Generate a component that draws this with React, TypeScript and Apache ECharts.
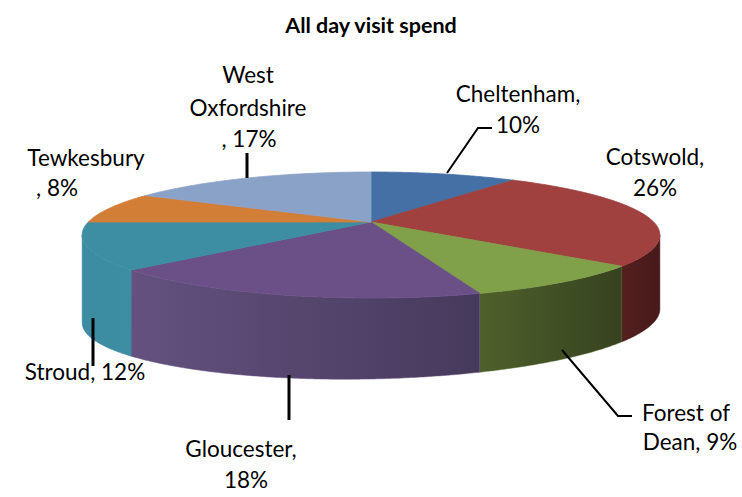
import React, { useEffect, useRef } from "react";
import * as echarts from "echarts";

// ---- data ----
const categories = [
  "Cheltenham",
  "Cotswold",
  "Forest of Dean",
  "Gloucester",
  "Stroud",
  "Tewkesbury",
  "West Oxfordshire",
];
const values = [10, 26, 9, 18, 12, 8, 17];
// where each "name, value%" label wraps (character indices)
const labelBreaks = [[11], [9], [9], [11], [], [10], [4, 16]];

// ---- styles / layout ----
const topColors = ["#4470A5", "#A0413F", "#80A04A", "#6B5088", "#3D8EA3", "#D27E36", "#8BA2C8"];
const wallColors = [
  ["#3A6090", "#34577F"],
  ["#541F1F", "#461A1A"],
  ["#4F602B", "#364220"],
  ["#64517F", "#463A5C"],
  ["#3C8CA1", "#3D8EA3"],
  ["#B86B2D", "#B86B2D"],
  ["#7A90B3", "#7A90B3"],
];
const labelLayout = [
  [[518, 93], [518, 124]],
  [[655, 156], [655, 187]],
  [[686, 412], [690, 441]],
  [[241, 448], [246, 479]],
  [[85, 371]],
  [[86, 157], [57, 187]],
  [[248, 74], [248, 107], [249, 138]],
];
const leaderLayout = [
  { pts: [[492, 128], [478, 128], [447, 173]], w: 2 },
  null,
  { pts: [[562, 350], [618, 416], [632, 416]], w: 2 },
  { pts: [[289, 375], [289, 420]], w: 3 },
  { pts: [[93, 318], [93, 366]], w: 3 },
  null,
  { pts: [[247, 153], [247, 178]], w: 3 },
];

const FONT = "Lato";
const CX = 371, CY = 222, KX = 1371, KY = 292.5, DIST = 4.85;
const VIS0 = (Math.acos(-1 / DIST) * 180) / Math.PI;
const VIS1 = 360 - VIS0;

function proj(deg: number): number[] {
  const p = (deg * Math.PI) / 180;
  const d = DIST + Math.cos(p);
  return [CX + (KX * Math.sin(p)) / d, CY - (KY * Math.cos(p)) / d];
}
function wallH(deg: number): number {
  return 81 - 7 * Math.sin((deg * Math.PI) / 180);
}

function labelLines(i: number): string[] {
  const full = `${categories[i]}, ${values[i]}%`;
  const br = labelBreaks[i];
  const out: string[] = [];
  let s = 0;
  for (const b of br) {
    out.push(full.slice(s, b).trim());
    s = b;
  }
  out.push(full.slice(s).trim());
  return out;
}

export default function App() {
  const ref = useRef<HTMLDivElement>(null);
  useEffect(() => {
    if (!ref.current) return;
    const chart = echarts.init(ref.current, undefined, { renderer: "svg" });
    const total = values.reduce((a, b) => a + b, 0);

    const graphics: any[] = [];
    leaderLayout.forEach((l) => {
      if (!l) return;
      graphics.push({
        type: "polyline",
        shape: { points: l.pts },
        style: { stroke: "#000", lineWidth: l.w, fill: null },
        z: 10,
      });
    });
    labelLayout.forEach((pos, i) => {
      const lines = labelLines(i);
      lines.forEach((t, j) => {
        const p = pos[j] || pos[pos.length - 1];
        graphics.push({
          type: "text",
          x: p[0],
          y: p[1],
          z: 11,
          style: {
            text: t,
            align: "center",
            verticalAlign: "middle",
            fontSize: 22.5,
            fontFamily: FONT,
            fill: "#000",
          },
        });
      });
    });

    chart.setOption({
      animation: false,
      backgroundColor: "#fff",
      title: {
        text: "All day visit spend",
        left: "center",
        top: 9,
        textStyle: { fontSize: 21.5, fontWeight: "bold", fontFamily: FONT, color: "#000" },
      },
      series: [
        {
          type: "custom",
          coordinateSystem: "none",
          data: values.map((v, i) => ({ name: categories[i], value: v })),
          renderItem: (params: any, api: any) => {
            const i = params.dataIndex;
            let before = 0;
            for (let k = 0; k < i; k++) before += values[k];
            const v = api.value(0);
            const a0 = (before / total) * 360;
            const a1 = ((before + v) / total) * 360;
            const top: number[][] = [[CX, CY]];
            for (let a = a0; a < a1; a += 0.5) top.push(proj(a));
            top.push(proj(a1));
            const children: any[] = [
              {
                type: "polygon",
                z2: 10,
                shape: { points: top },
                style: { fill: topColors[i], stroke: topColors[i], lineWidth: 0.8 },
              },
            ];
            const w0 = Math.max(a0, VIS0);
            const w1 = Math.min(a1, VIS1);
            if (w1 > w0) {
              const upper: number[][] = [];
              const lower: number[][] = [];
              const angs: number[] = [];
              for (let a = w0; a < w1; a += 0.5) angs.push(a);
              angs.push(w1);
              angs.forEach((a) => {
                const p = proj(a);
                upper.push(p);
                lower.push([p[0], p[1] + wallH(a)]);
              });
              const pts = upper.concat(lower.reverse());
              children.push({
                type: "polygon",
                z2: 1,
                shape: { points: pts },
                style: {
                  fill: {
                    type: "linear",
                    x: 0,
                    y: 0,
                    x2: 1,
                    y2: 0,
                    colorStops: [
                      { offset: 0, color: wallColors[i][0] },
                      { offset: 1, color: wallColors[i][1] },
                    ],
                  },
                  stroke: wallColors[i][0],
                  lineWidth: 0.5,
                },
              });
            }
            return { type: "group", children };
          },
        },
      ],
      graphic: graphics,
    });
    return () => chart.dispose();
  }, []);
  return (
    <div
      ref={ref}
      style={{ position: "fixed", left: 0, top: 0, width: 742, height: 497 }}
    />
  );
}
